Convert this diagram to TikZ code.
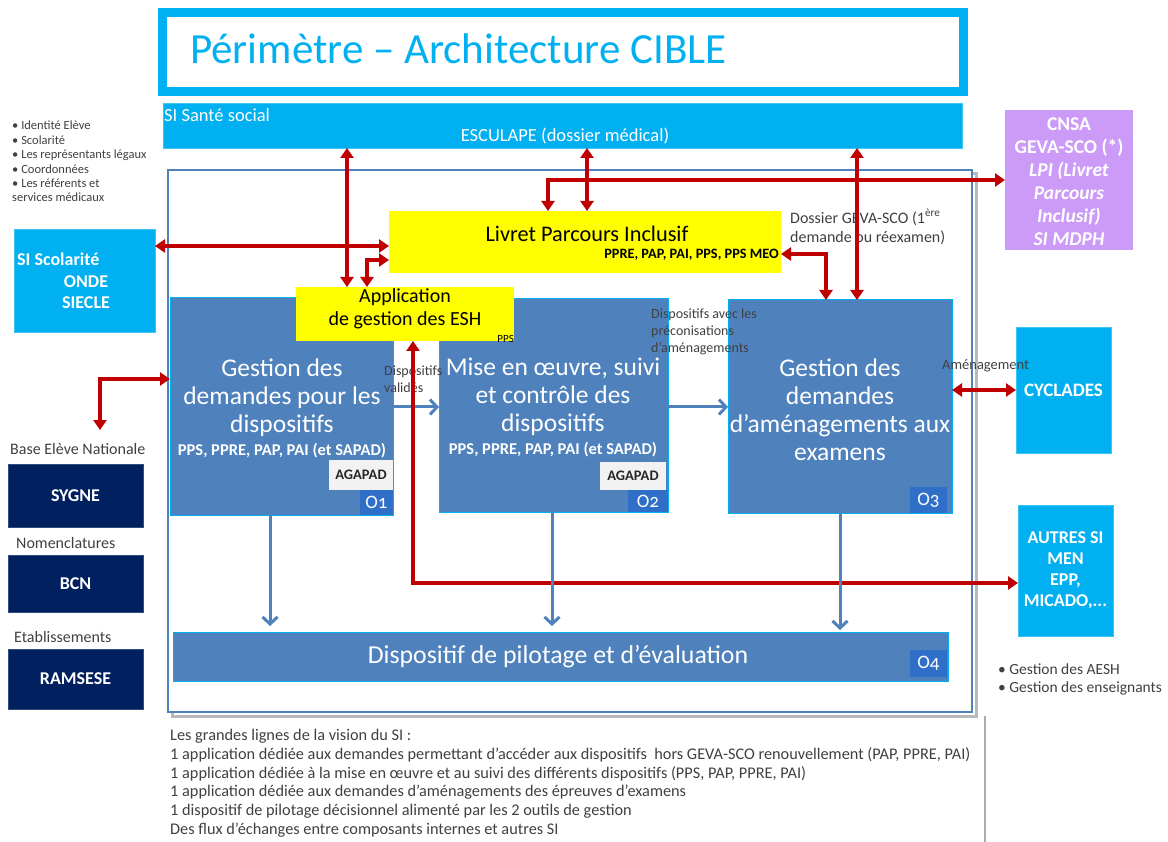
\documentclass[tikz,border=0pt]{standalone}
\usepackage{fontspec}
\setmainfont{Carlito}
\usetikzlibrary{arrows.meta,calc}
\definecolor{cyanb}{HTML}{00B0F0}
\definecolor{cyanl}{HTML}{3CC4F4}
\definecolor{steel}{HTML}{4F81BD}
\definecolor{navy}{HTML}{002060}
\definecolor{redarr}{HTML}{C00000}
\definecolor{purp}{HTML}{CC9BF8}
\definecolor{yel}{HTML}{FFFF00}
\definecolor{olab}{HTML}{2F6FC8}
\definecolor{txtg}{HTML}{404040}
\definecolor{agap}{HTML}{F2F2F2}
\newcommand\myfs[2]{\fontsize{#1}{#2}\selectfont}
\begin{document}
\begin{tikzpicture}[x=1pt,y=-1pt,
 box/.style={inner sep=0pt, outer sep=0pt, anchor=north west},
 cbox/.style={box, fill=cyanb, draw=cyanl, line width=0.8pt, text=white, font=\myfs{18}{21}\bfseries, align=center},
 nbox/.style={box, fill=navy, draw=navy!80!white, text=white, font=\myfs{18}{21}\bfseries},
 obox/.style={box, fill=steel, draw=cyanb, line width=1pt},
 otitle/.style={text=white, font=\myfs{25.5}{28}, align=center, inner sep=0pt},
 osub/.style={text=white, font=\myfs{16.5}{18}\bfseries, inner sep=0pt},
 olabel/.style={box, fill=olab, text=white, font=\myfs{19}{20}\addfontfeatures{Numbers=OldStyle}},
 agapad/.style={box, fill=agap, font=\myfs{14.5}{15}\bfseries, text=black!85},
 ybox/.style={box, fill=yel},
 note/.style={text=txtg, inner sep=0pt, align=left},
 redar/.style={draw=redarr, line width=3.2pt, {Triangle[length=10pt,width=13pt]}-{Triangle[length=10pt,width=13pt]}},
 bluear/.style={draw=steel, line width=3pt, -{Straight Barb[length=7pt,width=15pt,line width=3pt]}},
]
\useasboundingbox (0,0) rectangle (1168,842);
% title
\node[box, draw=cyanb, line width=9pt, minimum width=801, minimum height=79] (titlebox) at (162.5,12.5) {};
\node[anchor=base west, inner sep=0pt, text=cyanb, font=\myfs{43}{50}] (title) at (190,64) {Périmètre – Architecture CIBLE};
% SI santé
\node[box, fill=cyanb, draw=cyanl, line width=0.8pt, minimum width=799, minimum height=45] (esc) at (163,103) {};
\node[anchor=base west, inner sep=0pt, text=white, font=\myfs{18.5}{20}] (sisante) at (164,122) {SI Santé social};
\node[anchor=base, inner sep=0pt, text=white, font=\myfs{18.5}{20}] (esculape) at (565,142) {ESCULAPE (dossier médical)};
% container
\node[box, draw=gray!55, line width=3pt, minimum width=804, minimum height=542] (shadow) at (172,174) {};
\node[box, fill=white, draw=steel, line width=2pt, minimum width=804, minimum height=542] (cont) at (168,170) {};
% O boxes
\node[obox, minimum width=223, minimum height=217] (o1) at (170,298) {};
\node[obox, minimum width=229, minimum height=213] (o2) at (439,299) {};
\node[obox, minimum width=224, minimum height=213] (o3) at (728,300) {};
\node[obox, minimum width=775, minimum height=49] (o4) at (173,632) {};
\node[otitle] (o1t) at (282,398) {Gestion des\\demandes pour les\\dispositifs};
\node[osub] (o1s) at (282,451) {PPS, PPRE, PAP, PAI (et SAPAD)};
\node[otitle] (o2t) at (553,397) {Mise en œuvre, suivi\\et contrôle des\\dispositifs};
\node[osub] (o2s) at (553,450) {PPS, PPRE, PAP, PAI (et SAPAD)};
\node[otitle] (o3t) at (840,410) {Gestion des\\demandes\\d’aménagements aux\\examens};
\node[otitle, font=\myfs{25.8}{28}] (o4t) at (558,657) {Dispositif de pilotage et d’évaluation};
\node[agapad, minimum width=64, minimum height=30] (ag1) at (329,460) {AGAPAD};
\node[agapad, minimum width=66, minimum height=28] (ag2) at (600,462) {AGAPAD};
\node[olabel, minimum width=33, minimum height=25] (l1) at (360,490) {O1};
\node[olabel, minimum width=40, minimum height=22] (l2) at (628,490) {O2};
\node[olabel, minimum width=37, minimum height=26] (l3) at (910,487) {O3};
\node[olabel, minimum width=37, minimum height=27] (l4) at (910,650) {O4};
% yellow boxes
\node[ybox, minimum width=392, minimum height=62] (livret) at (389,211) {};
\node[inner sep=0pt, font=\myfs{22.3}{24}] (livtitle) at (587,234) {Livret Parcours Inclusif};
\node[anchor=base east, inner sep=0pt, font=\myfs{14.3}{15}\bfseries] (livsub) at (779,259) {PPRE, PAP, PAI, PPS, PPS MEO};
\node[ybox, minimum width=218, minimum height=54] (app) at (296,287) {};
\node[inner sep=0pt, align=center, font=\myfs{20}{23}] (apptext) at (405,309) {Application\\de gestion des ESH};
\node[anchor=south east, inner sep=1pt, font=\myfs{11}{12}] (pps) at (515,344) {PPS};
% left side
\node[note, anchor=north west, font=\myfs{12.5}{14.4}] (bul) at (12,121) {• Identité Elève\\• Scolarité\\• Les représentants légaux\\• Coordonnées\\• Les référents et\\services médicaux};
\node[cbox, minimum width=141, minimum height=103] (scol) at (14,229) {};
\node[anchor=base west, inner sep=0pt, text=white, font=\myfs{18}{20}\bfseries] (scolt) at (17,266) {SI Scolarité};
\node[inner sep=0pt, text=white, font=\myfs{18}{21}\bfseries, align=center] (scolt2) at (86,292) {ONDE\\SIECLE};
\node[note, anchor=base west, font=\myfs{16}{17}] (lbase) at (10,454) {Base Elève Nationale};
\node[nbox, minimum width=135, minimum height=63] (sygne) at (8,464) {SYGNE};
\node[note, anchor=base west, font=\myfs{16}{17}] (lnom) at (16,548) {Nomenclatures};
\node[nbox, minimum width=135, minimum height=57] (bcn) at (8,555) {BCN};
\node[note, anchor=base west, font=\myfs{16}{17}] (leta) at (14,642) {Etablissements};
\node[nbox, minimum width=135, minimum height=60] (ramsese) at (8,649) {RAMSESE};
% right side
\node[box, fill=purp, minimum width=128, minimum height=140] (cnsa) at (1005,110) {};
\node[inner sep=0pt, text=white, align=center, font=\myfs{19.5}{23}\bfseries] (cnsat) at (1069,182) {CNSA\\GEVA-SCO (*)\\\textit{LPI (Livret}\\\textit{Parcours}\\\textit{Inclusif)}\\\textit{SI MDPH}};
\node[cbox, font=\myfs{19}{21}\bfseries, minimum width=95, minimum height=126] (cyc) at (1016,327) {CYCLADES};
\node[cbox, minimum width=95, minimum height=131] (autres) at (1018,505) {AUTRES SI\\MEN\\EPP,\\MICADO,...};
\node[note, anchor=north west, font=\myfs{15.5}{18}] (rbul) at (998,664) {• Gestion des AESH\\• Gestion des enseignants};
% labels
\node[note, anchor=north west, font=\myfs{16}{19}] (geva) at (790,209) {Dossier GEVA-SCO (1\textsuperscript{ère}\\demande ou réexamen)};
\node[note, anchor=north west, font=\myfs{14}{16.5}] (dval) at (384,366) {Dispositifs\\validés};
\node[note, anchor=north west, font=\myfs{14}{17}] (dpre) at (651,309) {Dispositifs avec les\\préconisations\\d’aménagements};
\node[note, anchor=north west, font=\myfs{14.5}{15}] (amen) at (942,359) {Aménagement};
% bottom text
\node[note, anchor=north west, font=\myfs{16.3}{18.8}] (vision) at (170,729) {Les grandes lignes de la vision du SI :\\1 application dédiée aux demandes permettant d’accéder aux dispositifs\ \ hors GEVA-SCO renouvellement (PAP, PPRE, PAI)\\1 application dédiée à la mise en œuvre et au suivi des différents dispositifs (PPS, PAP, PPRE, PAI)\\1 application dédiée aux demandes d’aménagements des épreuves d’examens\\1 dispositif de pilotage décisionnel alimenté par les 2 outils de gestion\\Des flux d’échanges entre composants internes et autres SI};
\draw[gray!65, line width=1.5pt] (985,716) -- (985,842);
% coordinates
\coordinate (xa) at (347,0);
\coordinate (xb) at (587,0);
\coordinate (xc) at (857,0);
\coordinate (xd) at (548,0);
\coordinate (yd) at (0,180);
\coordinate (ye) at (0,246);
\coordinate (xf) at (367,0);
\coordinate (yf) at (0,260);
\coordinate (yg) at (0,254);
\coordinate (xg) at (826,0);
\coordinate (yh) at (0,379);
\coordinate (tbase) at (100,430);
\coordinate (xi) at (413,0);
\coordinate (yi) at (0,583);
\coordinate (yj) at (0,390);
\coordinate (yk) at (0,407);
\coordinate (xl) at (270,0);
\coordinate (xm) at (552,0);
\coordinate (xn) at (840,0);
% blue horizontal arrows
\draw[bluear] (o1.east |- yk) -- (o2.west |- yk);
\draw[bluear] (o2.east |- yk) -- (o3.west |- yk);
% red arrows
\draw[redar] (esc.south -| xa) -- (app.north -| xa);
\draw[redar] (esc.south -| xb) -- (livret.north -| xb);
\draw[redar] (esc.south -| xc) -- (o3.north -| xc);
\draw[redar] (livret.north -| xd) |- (cnsa.west |- yd);
\draw[redar] (scol.east |- ye) -- (livret.west |- ye);
\draw[redar] (app.north -| xf) |- (livret.west |- yf);
\draw[redar] (livret.east |- yg) -| (o3.north -| xg);
\draw[redar] (o1.west |- yh) -| (tbase);
\draw[redar] (app.south -| xi) |- (autres.west |- yi);
\draw[redar] (o3.east |- yj) -- (cyc.west |- yj);
% blue vertical arrows
\draw[bluear, shorten >=6pt] (o1.south -| xl) -- (o4.north -| xl);
\draw[bluear, shorten >=6pt] (o2.south -| xm) -- (o4.north -| xm);
\draw[bluear, shorten >=2pt] (o3.south -| xn) -- (o4.north -| xn);
\end{tikzpicture}
\end{document}
